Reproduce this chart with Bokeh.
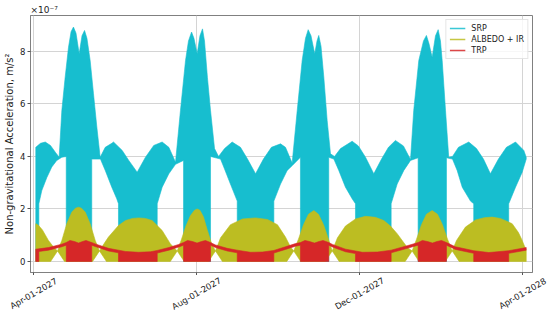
import numpy as np
import pandas as pd
from bokeh.plotting import figure
from bokeh.layouts import column
from bokeh.models import (Range1d, FixedTicker, Legend, LegendItem, CustomJSTickFormatter)
from bokeh.core.properties import value
from bokeh.embed import file_html
from bokeh.resources import INLINE

START = "2027-04-01"

# ---- SRP envelope (days after 2027-04-01, values in 1e-7 m/s^2) ----
srp_hi_day = [1.7, 5.2, 8.8, 12.7, 16.5, 19.2, 21.2, 23.7, 26.2, 28.1, 29.9, 31.8, 34.2, 36.3, 38.2,
              40.0, 42.4, 44.9, 47.4, 49.9, 53.7, 58.6, 59.9, 66.4, 71.3, 77.6, 83.8, 90.0, 96.3,
              101.3, 106.3, 110.0, 113.8, 116.0, 118.3, 120.1, 122.5, 124.6, 126.5, 128.0, 130.2,
              132.5, 135.5, 138.5, 143.0, 148.7, 154.9, 160.2, 166.2, 172.1, 178.1, 184.9, 188.6,
              193.6, 197.4, 201.1, 203.6, 205.6, 207.7, 210.5, 212.2, 213.5, 215.2, 217.3, 219.8,
              222.3, 225.3, 229.8, 238.5, 243.2, 248.5, 254.7, 260.5, 265.7, 270.9, 276.9, 282.2,
              284.6, 288.4, 291.9, 294.1, 296.0, 298.4, 300.9, 302.9, 304.6, 305.9, 308.4, 310.8,
              313.6, 318.1, 325.8, 331.6, 336.8, 342.0, 348.0, 354.0, 360.8, 367.0, 368.8]
srp_hi = [4.35, 4.5, 4.55, 4.42, 4.15, 3.97, 5.75, 7.02, 8.16, 8.75, 8.93, 8.7, 7.91, 8.6, 8.8,
          8.5, 7.66, 6.39, 5.12, 3.97, 4.35, 4.5, 4.55, 4.23, 3.85, 3.4, 3.97, 4.42, 4.55,
          4.35, 3.78, 5.75, 7.66, 8.4, 8.74, 8.5, 7.91, 8.6, 8.86, 8.4, 7.0,
          5.75, 4.3, 4.0, 4.3, 4.55, 4.35, 3.9, 3.34, 3.9, 4.35, 4.48, 4.35,
          3.75, 5.75, 7.66, 8.5, 8.83, 8.6, 7.91, 8.4, 8.61, 8.2, 7.02, 5.37,
          4.1, 4.0, 4.3, 4.58, 4.4, 3.97, 3.34, 3.9, 4.35, 4.61, 4.4, 3.88,
          5.75, 7.66, 8.4, 8.61, 8.3, 7.78, 8.6, 8.83, 8.4, 7.66, 5.75, 3.97,
          4.0, 4.35, 4.55, 4.3, 3.9, 3.34, 3.9, 4.35, 4.55, 4.23, 3.97]
srp_lo_day = [1.7, 4.0, 4.0, 6.2, 10.0, 13.7, 17.4, 21.2, 24.5, 24.5, 43.6, 43.6, 50.1, 53.7, 58.6,
              62.3, 63.6, 63.6, 92.6, 92.6, 96.3, 101.3, 106.3, 112.3, 112.3, 132.5, 132.5, 140.0,
              142.4, 147.4, 152.5, 152.5, 179.9, 179.9, 184.9, 189.9, 193.6, 199.8, 199.8, 221.0,
              221.0, 224.8, 228.5, 233.5, 238.5, 241.0, 241.0, 267.7, 267.7, 272.2, 277.2, 282.2,
              287.9, 287.9, 309.1, 309.1, 313.6, 317.1, 320.9, 327.1, 329.5, 329.5, 355.7, 355.7,
              360.8, 365.8, 368.8]
srp_lo = [0, 0, 2.2, 2.7, 3.2, 3.6, 3.85, 3.97, 4.0, 0, 0, 3.9, 3.9, 3.47, 2.83,
          2.39, 2.2, 0, 0, 2.2, 2.83, 3.34, 3.7, 3.85, 0, 0, 4.0, 3.9,
          3.6, 2.95, 2.3, 0, 0, 2.3, 2.95, 3.47, 3.65, 3.97, 0, 0,
          3.97, 3.9, 3.47, 2.83, 2.39, 2.2, 0, 0, 2.2, 2.95, 3.47, 3.85,
          3.95, 0, 0, 3.95, 3.9, 3.47, 2.83, 2.3, 2.2, 0, 0, 2.2,
          2.83, 3.4, 3.9]

# ---- ALBEDO + IR envelope ----
alb_hi_day = [1.7, 3.7, 6.7, 11.2, 15.0, 18.0, 21.2, 24.9, 28.7, 31.4, 33.7, 35.9, 38.7, 42.4, 46.2,
              49.4, 53.1, 56.1, 63.6, 68.9, 74.1, 78.8, 83.8, 88.8, 96.3, 102.5, 107.6, 110.8,
              113.8, 117.5, 120.5, 122.5, 124.6, 127.2, 130.2, 133.2, 136.2, 140.0, 147.4, 156.4,
              166.2, 175.1, 182.6, 188.6, 192.4, 194.8, 198.3, 202.1, 205.8, 209.8, 213.3, 217.1,
              220.8, 223.6, 227.5, 233.5, 241.0, 248.5, 256.0, 262.2, 267.2, 272.2, 279.7, 283.4,
              286.7, 290.4, 294.1, 298.4, 302.4, 306.1, 309.9, 313.4, 316.6, 323.3, 330.8, 337.5,
              343.3, 349.5, 358.3, 363.0, 365.8, 368.8]
alb_hi = [1.44, 1.38, 1.2, 0.8, 0.55, 0.4, 0.8, 1.44, 1.88, 2.03, 2.07, 2.03, 1.88, 1.44, 0.8,
          0.4, 0.7, 0.93, 1.37, 1.56, 1.64, 1.66, 1.64, 1.56, 1.18, 0.67, 0.4, 0.85,
          1.31, 1.75, 1.95, 2.0, 1.95, 1.7, 1.18, 0.7, 0.4, 0.9, 1.4, 1.62,
          1.66, 1.6, 1.4, 0.93, 0.55, 0.4, 0.85, 1.4, 1.8, 1.94, 1.8, 1.4,
          0.85, 0.4, 0.9, 1.35, 1.62, 1.72, 1.68, 1.56, 1.35, 1.06, 0.54, 0.4,
          0.85, 1.4, 1.8, 1.94, 1.8, 1.4, 0.85, 0.4, 0.8, 1.31, 1.58, 1.67,
          1.69, 1.64, 1.44, 1.1, 0.8, 0.42]
alb_lo_day = [1.7, 12.8, 18.0, 23.2, 44.2, 49.4, 54.6, 102.4, 107.6, 112.8, 131.0, 136.2, 141.4,
              189.6, 194.8, 200.0, 218.4, 223.6, 228.8, 278.2, 283.4, 288.6, 308.2, 313.4, 318.6,
              368.8]
alb_lo = [0, 0, 0.4, 0, 0, 0.4, 0, 0, 0.4, 0, 0, 0.4, 0,
          0, 0.4, 0, 0, 0.4, 0, 0, 0.4, 0, 0, 0.4, 0,
          0]

# ---- TRP envelope ----
trp_day = [1.7, 4.0, 4.0, 11.2, 21.2, 24.5, 24.5, 27.3, 30.7, 33.7, 36.7, 39.3, 43.6, 43.6, 46.2,
           56.1, 63.6, 63.6, 68.9, 78.6, 87.6, 92.6, 92.6, 101.3, 108.7, 112.3, 112.3, 115.3,
           119.0, 122.4, 125.7, 128.7, 132.5, 132.5, 136.2, 145.0, 152.5, 152.5, 162.4, 171.4,
           179.9, 179.9, 188.6, 196.1, 199.8, 199.8, 203.2, 206.6, 210.3, 213.7, 216.7, 221.0,
           221.0, 223.8, 233.5, 241.0, 241.0, 246.2, 257.5, 267.7, 267.7, 279.7, 287.9, 287.9,
           291.1, 294.9, 298.6, 302.0, 305.4, 309.1, 309.1, 315.8, 329.5, 329.5, 340.8, 355.7,
           355.7, 368.8]
trp_hi = [0.47, 0.48, 0.48, 0.53, 0.66, 0.72, 0.72, 0.8, 0.76, 0.7, 0.76, 0.8, 0.72, 0.72, 0.67,
          0.5, 0.43, 0.43, 0.38, 0.35, 0.37, 0.42, 0.42, 0.53, 0.65, 0.72, 0.72, 0.8,
          0.76, 0.7, 0.76, 0.8, 0.72, 0.72, 0.63, 0.5, 0.43, 0.43, 0.35, 0.36,
          0.42, 0.42, 0.56, 0.68, 0.72, 0.72, 0.8, 0.76, 0.7, 0.76, 0.8, 0.72,
          0.72, 0.65, 0.47, 0.4, 0.4, 0.35, 0.36, 0.43, 0.43, 0.6, 0.72, 0.72,
          0.8, 0.76, 0.7, 0.76, 0.8, 0.72, 0.72, 0.56, 0.41, 0.41, 0.34, 0.41,
          0.41, 0.53]
trp_lo = [0, 0, 0.38, 0.43, 0.56, 0.62, 0, 0, 0, 0, 0, 0, 0, 0.62, 0.57,
          0.4, 0.33, 0, 0, 0, 0, 0, 0.32, 0.43, 0.55, 0.62, 0, 0,
          0, 0, 0, 0, 0, 0.62, 0.53, 0.4, 0.33, 0, 0, 0,
          0, 0.32, 0.46, 0.58, 0.62, 0, 0, 0, 0, 0, 0, 0,
          0.62, 0.55, 0.37, 0.3, 0, 0, 0, 0, 0.33, 0.5, 0.62, 0,
          0, 0, 0, 0, 0, 0, 0.62, 0.46, 0.31, 0, 0, 0,
          0.31, 0.43]

tick_dates = ["2027-04-01", "2027-08-01", "2027-12-01", "2028-04-01"]
tick_format = "%b-%d-%Y"          # -> Apr-01-2027, Aug-01-2027, ...
y_ticks = [0, 2, 4, 6, 8]

SRP_C = "#17becf"
ALB_C = "#bcbd22"
TRP_C = "#d62728"
FONT = "DejaVu Sans"
TXT = "#222222"

W = 550
FRAME_L, FRAME_R = 30, 532        # frame edges in page pixels
MAIN_H, LAB_H = 275, 41
DAY_MS = 86400000.0
base_ms = pd.Timestamp(START).value / 1e6


def ms(days):
    return base_ms + np.asarray(days, dtype=float) * DAY_MS


tick_ms = [pd.Timestamp(d).value / 1e6 for d in tick_dates]
tick_labels = [pd.Timestamp(d).strftime(tick_format) for d in tick_dates]
x0, x1 = float(ms(-2.25)), float(ms(373.5))

p = figure(width=W, height=MAIN_H, x_axis_type="datetime",
           output_backend="svg", toolbar_location=None,
           x_range=Range1d(x0, x1), y_range=Range1d(-0.42, 9.37),
           min_border_left=FRAME_L, min_border_right=W - FRAME_R,
           min_border_top=15, min_border_bottom=3,
           title="×10⁻⁷")
p.frame_align = False
p.background_fill_color = "white"
p.border_fill_color = "white"
p.outline_line_color = "#808080"
p.outline_line_width = 1

p.title.text_font = FONT
p.title.text_font_size = "9px"
p.title.text_font_style = "normal"
p.title.text_color = TXT
p.title.align = "left"
p.title.standoff = 1
p.title.offset = 0


def band(hd, hv, ld, lv, color):
    xs = np.concatenate([ms(hd), ms(ld)[::-1]])
    ys = np.concatenate([np.asarray(hv, float), np.asarray(lv, float)[::-1]])
    p.patch(xs, ys, fill_color=color, line_color=color, line_width=0.6)


band(srp_hi_day, srp_hi, srp_lo_day, srp_lo, SRP_C)
band(alb_hi_day, alb_hi, alb_lo_day, alb_lo, ALB_C)
band(trp_day, trp_hi, trp_day, trp_lo, TRP_C)

# axes
p.xaxis.ticker = FixedTicker(ticks=tick_ms)
p.xaxis.formatter = CustomJSTickFormatter(code="return ''")
p.xaxis.major_label_standoff = 0
p.xaxis.major_label_text_font_size = "0px"
p.yaxis.ticker = FixedTicker(ticks=y_ticks)
for ax in (p.xaxis[0], p.yaxis[0]):
    ax.axis_line_color = "#808080"
    ax.major_tick_line_color = "#555555"
    ax.major_tick_out = 3
    ax.major_tick_in = 0
    ax.minor_tick_line_color = None
    ax.major_label_text_font = FONT
    ax.major_label_text_color = TXT
p.yaxis.major_label_text_font_size = "8.5px"
p.yaxis.major_label_standoff = 2
p.yaxis.axis_label = "Non-gravitational Acceleration, m/s²"
p.yaxis.axis_label_text_font = FONT
p.yaxis.axis_label_text_font_size = "10px"
p.yaxis.axis_label_text_font_style = "normal"
p.yaxis.axis_label_text_color = TXT
p.yaxis.axis_label_standoff = 2

p.xgrid.grid_line_color = "#d4d4d4"
p.ygrid.grid_line_color = "#d4d4d4"

# legend (line swatches)
nan = [float("nan")]
r1 = p.line(x=nan, y=nan, line_color=SRP_C, line_width=1.5, line_alpha=0.85)
r2 = p.line(x=nan, y=nan, line_color=ALB_C, line_width=1.5, line_alpha=0.85)
r3 = p.line(x=nan, y=nan, line_color=TRP_C, line_width=1.5, line_alpha=0.85)
legend = Legend(items=[LegendItem(label="SRP", renderers=[r1]),
                       LegendItem(label="ALBEDO + IR", renderers=[r2]),
                       LegendItem(label="TRP", renderers=[r3])],
                location="top_right")
legend.label_text_font = FONT
legend.label_text_font_size = "8px"
legend.label_text_color = TXT
legend.label_height = 10
legend.glyph_height = 10
legend.glyph_width = 16
legend.label_standoff = 6
legend.spacing = 1
legend.padding = 3
legend.margin = 4
legend.border_line_color = "#cccccc"
legend.border_line_width = 1
legend.background_fill_alpha = 0.8
p.add_layout(legend)

# strip below the plot carrying the rotated, tick-centred date labels
span = (x1 - x0) / (FRAME_R - FRAME_L)
lab = figure(width=W, height=LAB_H, output_backend="svg", toolbar_location=None,
             x_range=Range1d(x0 - FRAME_L * span, x0 + (W - FRAME_L) * span),
             y_range=Range1d(0, LAB_H), min_border=0,
             min_border_left=0, min_border_right=0, min_border_top=0, min_border_bottom=0,
             x_axis_location=None, y_axis_location=None)
lab.frame_align = False
lab.grid.visible = False
lab.outline_line_color = None
lab.background_fill_color = "white"
lab.border_fill_color = "white"
lab.text(x=tick_ms, y=[LAB_H - 18] * len(tick_ms), text=tick_labels, angle=30, angle_units="deg",
         text_align="center", text_baseline="middle", text_font=value(FONT),
         text_font_size=value("8.5px"), text_color=TXT)

layout = column(p, lab, spacing=0)
open("out.html", "w").write(file_html(layout, INLINE))
